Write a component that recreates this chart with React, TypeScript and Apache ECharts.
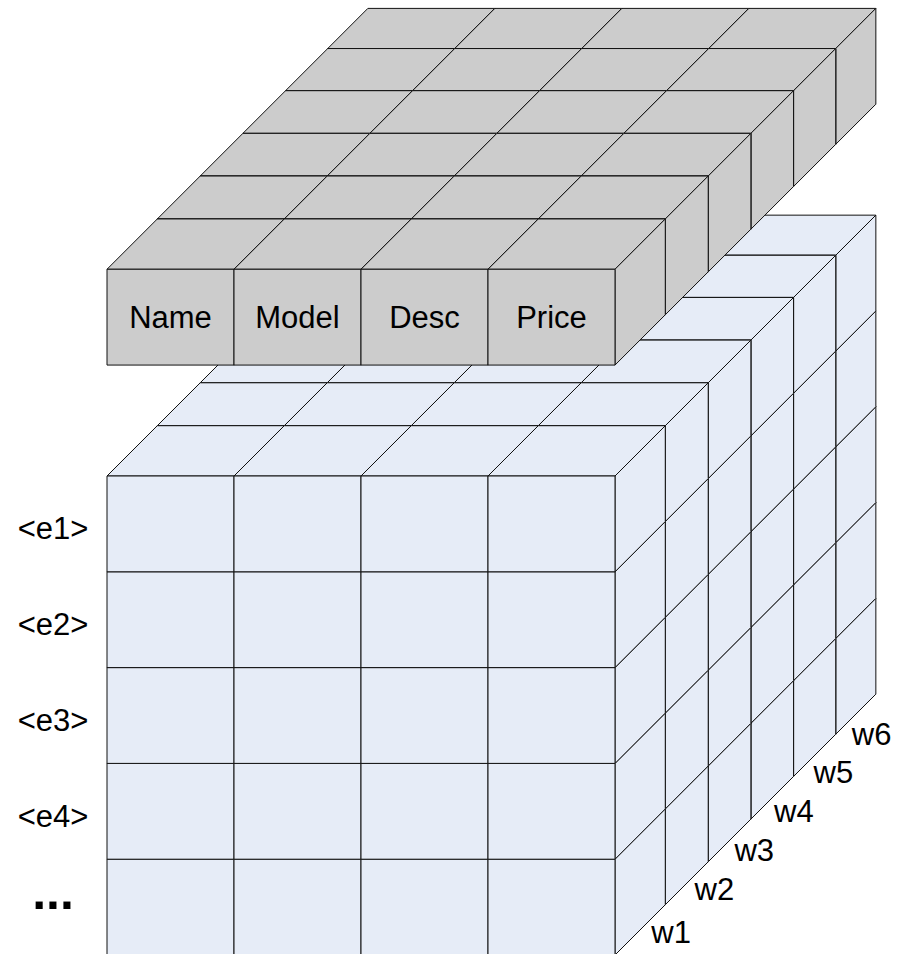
import React, { useEffect, useRef } from "react";
import * as echarts from "echarts";

// ---- content ----
const COLUMNS = ["Name", "Model", "Desc", "Price"];
const ROWS = ["<e1>", "<e2>", "<e3>", "<e4>", "..."];
const DEPTHS = ["w1", "w2", "w3", "w4", "w5", "w6"];

// ---- layout constants (not data) ----
// back edge of each depth layer, in column widths (oblique 45° projection)
const DEPTH_EDGES = [0, 0.396, 0.734, 1.07, 1.406, 1.738, 2.054];
const HEADER_ROW_SHIFT = -2.158; // gray header block position, in row heights
const BLUE = "#E6ECF7";
const GRAY = "#CCCCCC";
const EDGE = "#111111";
const FONT = "'Liberation Sans', Arial, sans-serif";
const FONT_SIZE = 31;

// cubes in painter's order: back layers first, lower rows first, left to right
function buildCubes(rowCount: number) {
  const out: number[][] = [];
  for (let d = DEPTHS.length - 1; d >= 0; d--) {
    for (let r = rowCount - 1; r >= 0; r--) {
      for (let c = 0; c < COLUMNS.length; c++) out.push([c, r, d]);
    }
  }
  return out;
}
const bodyCubes = buildCubes(ROWS.length);
const headerCubes = buildCubes(1);
const depthLabelItems = DEPTHS.map((_, i) => [COLUMNS.length - 1, ROWS.length - 1, i]);

function cubeRenderer(fill: string, rowShift: number, withText: boolean) {
  return (params: any, api: any) => {
    const c = api.value(0);
    const r = api.value(1);
    const d = api.value(2);
    const center = api.coord([c, r]);
    const size = api.size([1, 1]);
    const w = size[0];
    const h = size[1];
    const x0 = center[0] - w / 2;
    const y0 = center[1] - h / 2 + rowShift * h;
    const e0 = DEPTH_EDGES[d] * w;
    const e1 = DEPTH_EDGES[d + 1] * w;
    const style = { fill, stroke: EDGE, lineWidth: 1 };
    const children: any[] = [
      {
        type: "polygon",
        shape: {
          points: [
            [x0 + e0, y0 - e0],
            [x0 + w + e0, y0 - e0],
            [x0 + w + e1, y0 - e1],
            [x0 + e1, y0 - e1],
          ],
        },
        style,
      },
      {
        type: "polygon",
        shape: {
          points: [
            [x0 + w + e0, y0 - e0],
            [x0 + w + e1, y0 - e1],
            [x0 + w + e1, y0 + h - e1],
            [x0 + w + e0, y0 + h - e0],
          ],
        },
        style,
      },
      {
        type: "rect",
        shape: { x: x0 + e0, y: y0 - e0, width: w, height: h },
        style,
      },
    ];
    if (withText && d === 0) {
      children.push({
        type: "text",
        style: {
          text: COLUMNS[c],
          x: x0 + w / 2,
          y: y0 + h / 2,
          align: "center",
          verticalAlign: "middle",
          fontSize: FONT_SIZE,
          fontFamily: FONT,
          fill: "#000",
        },
      });
    }
    return { type: "group", children };
  };
}

function depthLabelRenderer(params: any, api: any) {
  const c = api.value(0);
  const r = api.value(1);
  const d = api.value(2);
  const center = api.coord([c, r]);
  const size = api.size([1, 1]);
  const w = size[0];
  const cx = center[0] + w / 2;
  const cy = center[1] + size[1] / 2;
  const m = ((DEPTH_EDGES[d] + DEPTH_EDGES[d + 1]) / 2) * w;
  return {
    type: "text",
    style: {
      text: DEPTHS[d],
      x: cx + 0.93 * m + 32.7,
      y: cy - 0.92 * m + 1,
      align: "center",
      verticalAlign: "middle",
      fontSize: FONT_SIZE,
      fontFamily: FONT,
      fill: "#000",
    },
  };
}

export default function App() {
  const ref = useRef<HTMLDivElement>(null);
  useEffect(() => {
    const chart = echarts.init(ref.current!, null, { renderer: "svg" });
    chart.setOption({
      animation: false,
      backgroundColor: "#fff",
      grid: { left: 107, top: 476, width: 508, height: 479, outerBoundsMode: "none" },
      xAxis: {
        type: "category",
        data: COLUMNS,
        axisLine: { show: false },
        axisTick: { show: false },
        axisLabel: { show: false },
        splitLine: { show: false },
      },
      yAxis: {
        type: "category",
        data: ROWS,
        inverse: true,
        axisLine: { show: false },
        axisTick: { show: false },
        splitLine: { show: false },
        axisLabel: {
          interval: 0,
          align: "center",
          margin: 54,
          fontSize: FONT_SIZE,
          fontFamily: FONT,
          color: "#000",
          padding: [10, 0, 0, 0],
          formatter: (v: string) => (v === "..." ? "{dots|...}" : v),
          rich: {
            dots: {
              fontSize: 50,
              fontWeight: "bold",
              fontFamily: FONT,
              color: "#000",
              padding: [0, 0, 40, 0],
            },
          },
        },
      },
      series: [
        {
          type: "custom",
          z: 2,
          renderItem: cubeRenderer(BLUE, 0, false),
          data: bodyCubes,
          silent: true,
        },
        {
          type: "custom",
          z: 3,
          renderItem: cubeRenderer(GRAY, HEADER_ROW_SHIFT, true),
          data: headerCubes,
          silent: true,
        },
        {
          type: "custom",
          z: 4,
          renderItem: depthLabelRenderer,
          data: depthLabelItems,
          silent: true,
        },
      ],
    });
    return () => chart.dispose();
  }, []);
  return (
    <div
      ref={ref}
      style={{ position: "absolute", left: 0, top: 0, width: 898, height: 954 }}
    />
  );
}
